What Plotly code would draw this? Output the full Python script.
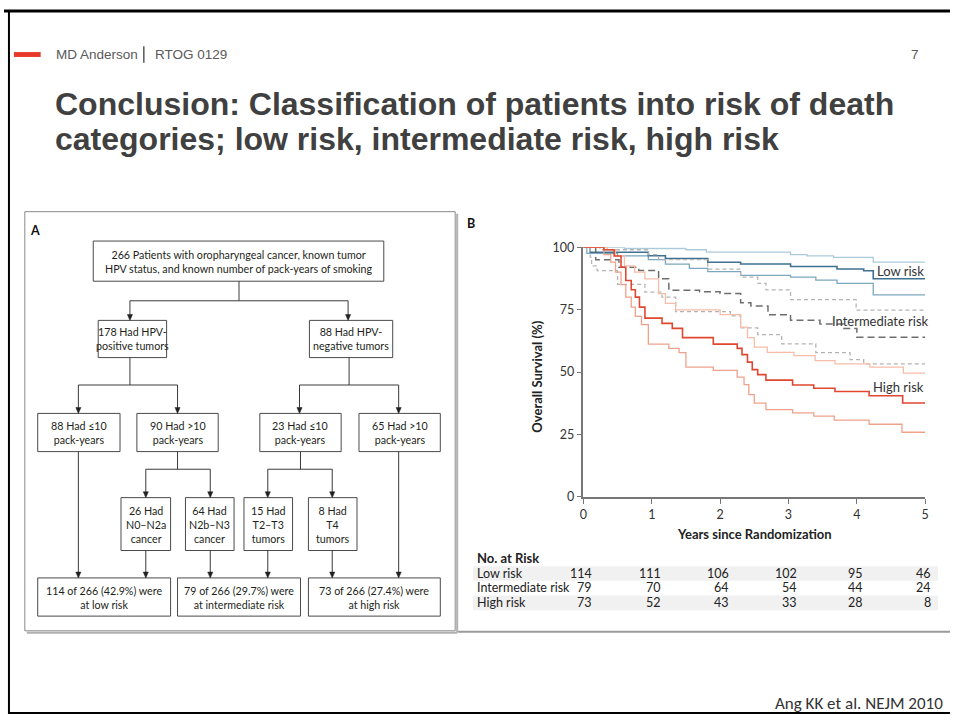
import plotly.graph_objects as go

W, H = 954, 723

# ---------------- data ----------------
years = [0, 1, 2, 3, 4, 5]
y_ticks = [0, 25, 50, 75, 100]
group_names = ["Low risk", "Intermediate risk", "High risk"]
at_risk_low = [114, 111, 106, 102, 95, 46]
at_risk_int = [79, 70, 64, 54, 44, 24]
at_risk_high = [73, 52, 43, 33, 28, 8]

# Kaplan-Meier step points (years, % surviving)
low_t = [0, 0.1, 0.95, 1.2, 1.82, 2.3, 3.03, 3.71, 4.1, 4.24, 5.0]
low_s = [100, 98, 96.6, 95.5, 94, 93.3, 92.3, 91.3, 90.6, 87.4, 87.4]
low_hi_t = [0, 0.6, 1.5, 1.8, 3.03, 3.27, 3.66, 4.24, 5.0]
low_hi_s = [100, 99.5, 99, 98, 97, 96.5, 95.9, 94, 94]
low_lo_t = [0, 0.05, 0.5, 0.95, 1.2, 1.55, 1.82, 2.3, 3.03, 3.4, 3.71, 4.24, 5.0]
low_lo_s = [100, 97.5, 96.5, 95, 93.2, 91.5, 90.2, 88.7, 88, 86.8, 85.5, 80.9, 80.9]

int_t = [0, 0.18, 0.52, 0.81, 1.1, 1.25, 1.7, 2.0, 2.3, 2.45, 2.7, 3.03, 3.46, 3.8, 4.0, 5.0]
int_s = [100, 95, 92, 90.7, 87.4, 82.8, 82.2, 81.5, 77.8, 76.5, 73, 70.8, 69.3, 67.5, 64, 64]
int_hi_t = [0, 0.24, 0.95, 1.1, 1.82, 2.3, 2.55, 2.67, 3.03, 3.99, 5.0]
int_hi_s = [100, 99, 97, 95, 91.2, 88, 85.5, 82.9, 79, 74.8, 74.8]
int_lo_t = [0, 0.1, 0.12, 0.2, 0.5, 0.9, 1.15, 1.35, 2.15, 2.3, 2.55, 2.9, 3.4, 3.9, 4.1, 5.0]
int_lo_s = [100, 96, 92.5, 90.6, 85.1, 82, 80, 74.2, 72.5, 67.7, 65, 61.3, 57.8, 55, 53.3, 53.3]

high_t = [0, 0.3, 0.45, 0.55, 0.62, 0.7, 0.76, 0.82, 0.9, 1.15, 1.3, 1.45, 1.9, 2.25,
          2.32, 2.4, 2.47, 2.55, 2.67, 3.06, 3.37, 3.68, 4.18, 4.67, 5.0]
high_s = [100, 99, 96.5, 92, 86.7, 83, 80, 76, 71.6, 69.5, 67.5, 63.8, 61.2, 59.5,
          57, 54, 51, 49, 46.8, 44.8, 43.5, 42.2, 40.5, 37.6, 37.6]
high_hi_t = [0, 0.35, 0.47, 0.6, 0.75, 0.9, 1.1, 1.2, 1.35, 2.0, 2.3, 2.4, 2.5, 2.69,
             3.08, 3.39, 3.68, 4.19, 4.68, 5.0]
high_hi_s = [100, 99, 96.5, 92.5, 90, 87.3, 81.4, 77.5, 74.9, 73, 68, 63.8, 60, 57.9,
             56.6, 54.6, 53.3, 52, 49.6, 49.6]
high_lo_t = [0, 0.3, 0.4, 0.47, 0.55, 0.62, 0.7, 0.76, 0.85, 0.95, 1.25, 1.4, 1.5, 1.9,
             2.25, 2.35, 2.42, 2.5, 2.67, 3.06, 3.37, 3.67, 4.18, 4.66, 5.0]
high_lo_s = [100, 97, 94, 90, 85, 80, 76, 72.3, 69, 61.2, 59.5, 57.8, 52, 50.7,
             48, 45, 41, 37.6, 35, 33.7, 32.4, 30.8, 29.1, 25.9, 25.9]

flow_texts = [
    "266 Patients with oropharyngeal cancer, known tumor<br>HPV status, and known number of pack-years of smoking",
    "178 Had HPV-<br>positive tumors",
    "88 Had HPV-<br>negative tumors",
    "88 Had ≤10<br>pack-years",
    "90 Had >10<br>pack-years",
    "23 Had ≤10<br>pack-years",
    "65 Had >10<br>pack-years",
    "26 Had<br>N0–N2a<br>cancer",
    "64 Had<br>N2b–N3<br>cancer",
    "15 Had<br>T2–T3<br>tumors",
    "8 Had<br>T4<br>tumors",
    "114 of 266 (42.9%) were<br>at low risk",
    "79 of 266 (29.7%) were<br>at intermediate risk",
    "73 of 266 (27.4%) were<br>at high risk",
]

# ---------------- layout helpers (pixel -> paper) ----------------
def px(x):
    return x / W


def py(y):
    return 1 - y / H


FIG_FONT = "Lato, 'Open Sans', sans-serif"
SLIDE_FONT = "'Liberation Sans Narrow', 'Arial Narrow', 'Liberation Sans', Arial, sans-serif"

shapes = []
annotations = []


def line(x0, y0, x1, y1, color="#3a3a3a", width=1):
    shapes.append(dict(type="line", xref="paper", yref="paper",
                       x0=px(x0), y0=py(y0), x1=px(x1), y1=py(y1),
                       line=dict(color=color, width=width)))


def rect(x0, y0, x1, y1, color="#3a3a3a", width=1, fill="rgba(0,0,0,0)"):
    shapes.append(dict(type="rect", xref="paper", yref="paper",
                       x0=px(x0), y0=py(y0), x1=px(x1), y1=py(y1),
                       line=dict(color=color, width=width), fillcolor=fill))


def text(x, y, s, size=10, color="#231f20", family=FIG_FONT, xanchor="center", **kw):
    annotations.append(dict(xref="paper", yref="paper", x=px(x), y=py(y), text=s,
                            showarrow=False, xanchor=xanchor, yanchor="middle",
                            font=dict(size=size, color=color, family=family), **kw))


def arrow(x, y0, y1):
    line(x, y0, x, y1 - 5)
    shapes.append(dict(type="path", xref="paper", yref="paper",
                       path="M {} {} L {} {} L {} {} Z".format(
                           px(x - 2.6), py(y1 - 6), px(x + 2.6), py(y1 - 6), px(x), py(y1)),
                       fillcolor="#222", line=dict(color="#222", width=0.5)))


# ---------------- slide frame & header ----------------
line(0, 3, 954, 3, color="#000", width=3)
line(5, 3, 5, 721, color="#000", width=2)
line(5, 720, 954, 720, color="#000", width=2)

rect(10, 45, 37, 50, color="#e8392b", width=0, fill="#e8392b")
text(50, 47, "MD Anderson", size=13.5, color="#595959", family=SLIDE_FONT, xanchor="left")
line(141, 39, 141, 56, color="#595959", width=1.5)
text(150, 47, "RTOG 0129", size=13.5, color="#595959", family=SLIDE_FONT, xanchor="left")
text(919, 47, "7", size=13.5, color="#595959", family=SLIDE_FONT)

text(49, 98, "<b>Conclusion: Classification of patients into risk of death</b>",
     size=32, color="#404040", family=SLIDE_FONT, xanchor="left")
text(49, 134, "<b>categories; low risk, intermediate risk, high risk</b>",
     size=32, color="#404040", family=SLIDE_FONT, xanchor="left")

text(949, 710, "Ang KK et al. NEJM 2010", size=17, color="#333",
     family="Carlito, Lato, sans-serif", xanchor="right")

# ---------------- panel A: flow chart ----------------
line(457, 210, 457, 638, color="#b0b0b0", width=2)
line(23, 638, 457, 638, color="#b0b0b0", width=2)
rect(21, 208, 455, 636, color="#8a8a8a", width=1)
text(31, 227, "<b>A</b>", size=12.5, color="#111")

boxes = [
    (90, 238, 383, 279), (95, 319, 164, 357), (308, 319, 392, 357),
    (34, 414, 117, 453), (134, 414, 216, 453), (258, 414, 340, 453), (358, 414, 440, 453),
    (118, 500, 168, 554), (183, 500, 232, 554), (242, 500, 291, 554), (307, 500, 356, 554),
    (34, 582, 168, 621), (175, 582, 299, 621), (307, 582, 440, 621),
]
for (x0, y0, x1, y1), s in zip(boxes, flow_texts):
    rect(x0, y0, x1, y1, color="#4a4a4a", width=1, fill="white")
    text((x0 + x1) / 2, (y0 + y1) / 2, s, size=10.7)

line(237, 279, 237, 299)
line(127, 299, 347, 299)
arrow(127, 299, 319)
arrow(347, 299, 319)

line(127, 357, 127, 385)
line(75, 385, 175, 385)
arrow(75, 385, 414)
arrow(175, 385, 414)
line(348, 357, 348, 385)
line(298, 385, 398, 385)
arrow(298, 385, 414)
arrow(398, 385, 414)

line(175, 453, 175, 471)
line(143, 471, 208, 471)
arrow(143, 471, 500)
arrow(208, 471, 500)
line(299, 453, 299, 471)
line(266, 471, 331, 471)
arrow(266, 471, 500)
arrow(331, 471, 500)

arrow(75, 453, 582)
arrow(398, 453, 582)
for xa in (143, 208, 266, 331):
    arrow(xa, 554, 582)

# ---------------- panel B: survival curves ----------------
line(458, 637, 954, 637, color="#9a9a9a", width=2)
text(471, 220, "<b>B</b>", size=12.5, color="#111")

fig = go.Figure()

curves = [
    (low_hi_t, low_hi_s, "#aacbdb", None, 1.3),
    (low_lo_t, low_lo_s, "#7ba7bf", None, 1.3),
    (low_t, low_s, "#3f7191", None, 1.6),
    (int_hi_t, int_hi_s, "#b4b4b4", "4px,3px", 1.3),
    (int_lo_t, int_lo_s, "#b4b4b4", "4px,3px", 1.3),
    (int_t, int_s, "#6e6e6e", "7px,4px", 1.5),
    (high_hi_t, high_hi_s, "#f6bda9", None, 1.3),
    (high_lo_t, high_lo_s, "#f0a18a", None, 1.3),
    (high_t, high_s, "#e0472f", None, 1.6),
]
for t, s, color, dash, width in curves:
    fig.add_trace(go.Scatter(x=t, y=s, mode="lines", line_shape="hv",
                             line=dict(color=color, width=width, dash=dash),
                             hoverinfo="skip", showlegend=False))

x_dom = [584.3 / W, 929 / W]
y_dom = [1 - 499.3 / H, 1 - 244.3 / H]

# curve labels
for name, yv in zip(group_names, [90.4, 70.5, 44.2]):
    annotations.append(dict(xref="x", yref="y", x=5.0, y=yv, text=name, showarrow=False,
                            xanchor="right", yanchor="middle",
                            xshift=6 if name == "Intermediate risk" else 1,
                            font=dict(size=13, color="#333", family=FIG_FONT)))

text(538, 376, "<b>Overall Survival (%)</b>", size=13, color="#222", textangle=-90)
text(757, 537, "<b>Years since Randomization</b>", size=13, color="#222")

# at-risk table
rect(473, 570, 942, 585, width=0, fill="#f1f1f1")
rect(473, 600, 942, 615, width=0, fill="#f1f1f1")
text(475, 562, "<b>No. at Risk</b>", size=13, color="#222", xanchor="left")
for name, counts, yrow in zip(group_names, [at_risk_low, at_risk_int, at_risk_high], [577, 592, 607]):
    text(475, yrow, name, size=12.5, color="#222", xanchor="left")
    for yr, n in zip(years, counts):
        annotations.append(dict(xref="x", yref="paper", x=yr, y=py(yrow), text=str(n),
                                showarrow=False, xanchor="right", yanchor="middle",
                                xshift=11 if yr < 4 else 8,
                                font=dict(size=12.5, color="#222", family=FIG_FONT)))

fig.update_layout(
    width=W, height=H, autosize=False,
    margin=dict(l=0, r=0, t=0, b=0),
    paper_bgcolor="white", plot_bgcolor="white",
    shapes=shapes, annotations=annotations,
    xaxis=dict(domain=x_dom, range=[0, 5], tickvals=years, ticks="outside", ticklen=5,
               tickcolor="#777", tickwidth=1.2, showline=True, linecolor="#777", linewidth=1.5,
               showgrid=False, zeroline=False, fixedrange=True,
               tickfont=dict(size=12.5, color="#333", family=FIG_FONT)),
    yaxis=dict(domain=y_dom, range=[0, 100], tickvals=y_ticks, ticks="outside", ticklen=5,
               tickcolor="#777", tickwidth=1.2, showline=True, linecolor="#777", linewidth=1.5,
               showgrid=False, zeroline=False, fixedrange=True,
               tickfont=dict(size=12.5, color="#333", family=FIG_FONT)),
)

# the page body has a default 8px margin; drop it (and any scrollbars) so the
# slide sits exactly in the window
page_fix = ("document.body.style.margin='0';"
            "document.body.style.overflow='hidden';"
            "document.documentElement.style.overflow='hidden';")
fig.write_html("out.html", config={"displayModeBar": False}, post_script=page_fix)
